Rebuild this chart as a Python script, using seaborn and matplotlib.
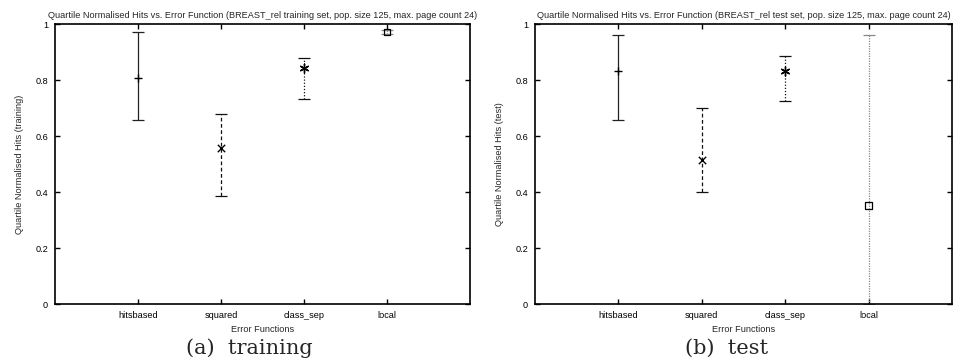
import numpy as np
import pandas as pd
import matplotlib
matplotlib.use("Agg")
import matplotlib.pyplot as plt
import seaborn as sns

# Error functions compared
categories = ["hitsbased", "squared", "class_sep", "local"]

# Quartiles of the normalised hits, training set
train_lower = [0.657, 0.385, 0.731, 0.963]
train_median = [0.806, 0.556, 0.842, 0.971]
train_upper = [0.972, 0.679, 0.880, 0.978]

# Quartiles of the normalised hits, test set
test_lower = [0.657, 0.400, 0.726, 0.0]
test_median = [0.833, 0.515, 0.833, 0.351]
test_upper = [0.962, 0.701, 0.886, 0.961]

y_ticks = [0, 0.2, 0.4, 0.6, 0.8, 1]
y_tick_labels = ["0", "0.2", "0.4", "0.6", "0.8", "1"]

sns.set_style("white")
plt.rcParams["font.family"] = ["Liberation Sans", "DejaVu Sans"]

# gnuplot-like styles per error function
markers = ["+", "x", (6, 2, 0), "s"]
marker_sizes = [40, 28, 40, 22]
linestyles = ["-", (0, (3, 2)), (0, (1, 1.5)), (0, (1, 1))]
linecolors = ["#222222", "#111111", "#111111", "#888888"]

FS = 6.6

fig = plt.figure(figsize=(9.54, 3.62), dpi=100)
ax_train = fig.add_axes([55 / 954, 58 / 362, 415 / 954, 280 / 362])
ax_test = fig.add_axes([535 / 954, 58 / 362, 417 / 954, 280 / 362])


def draw_panel(ax, lower, median, upper, title, ylabel, caption, cap_x):
    df = pd.DataFrame({"fn": categories, "lo": lower, "med": median, "hi": upper})
    df["x"] = np.arange(1, len(categories) + 1)
    for i, row in df.iterrows():
        eb = ax.errorbar(row["x"], row["med"],
                         yerr=[[row["med"] - row["lo"]], [row["hi"] - row["med"]]],
                         fmt="none", ecolor=linecolors[i], elinewidth=0.9,
                         capsize=4.3, capthick=0.9, zorder=2)
        eb[2][0].set_linestyle(linestyles[i])
        sub = df.iloc[[i]]
        if markers[i] == "s":
            sns.scatterplot(data=sub, x="x", y="med", marker="s", s=marker_sizes[i],
                            facecolor="none", edgecolor="black", linewidth=0.9,
                            legend=False, ax=ax, zorder=3)
        else:
            sns.scatterplot(data=sub, x="x", y="med", marker=markers[i],
                            s=marker_sizes[i], color="black", linewidth=1.0,
                            legend=False, ax=ax, zorder=3)
    ax.set_xlim(0, 5)
    ax.set_ylim(0, 1)
    ax.set_xticks(df["x"])
    ax.set_xticklabels(categories, fontsize=FS)
    ax.set_yticks(y_ticks)
    ax.set_yticklabels(y_tick_labels, fontsize=FS)
    ax.tick_params(direction="in", length=3.5, width=1.0, top=True, right=True,
                   bottom=True, left=True, pad=5, colors="black")
    for sp in ax.spines.values():
        sp.set_visible(True)
        sp.set_linewidth(1.2)
        sp.set_color("black")
    ax.set_xlabel("Error Functions", fontsize=FS, labelpad=4)
    ax.set_ylabel(ylabel, fontsize=FS, labelpad=8)
    ax.set_title(title, fontsize=FS, pad=4)
    fig.text(cap_x / 954, 1 - 348 / 362, caption, fontsize=15,
             family="DejaVu Serif", ha="center", va="center")


draw_panel(ax_train, train_lower, train_median, train_upper,
           "Quartile Normalised Hits vs. Error Function (BREAST_rel training set, pop. size 125, max. page count 24)",
           "Quartile Normalised Hits (training)", "(a)  training", 249)
draw_panel(ax_test, test_lower, test_median, test_upper,
           "Quartile Normalised Hits vs. Error Function (BREAST_rel test set, pop. size 125, max. page count 24)",
           "Quartile Normalised Hits (test)", "(b)  test", 727)

fig.savefig("out.png", dpi=100)
